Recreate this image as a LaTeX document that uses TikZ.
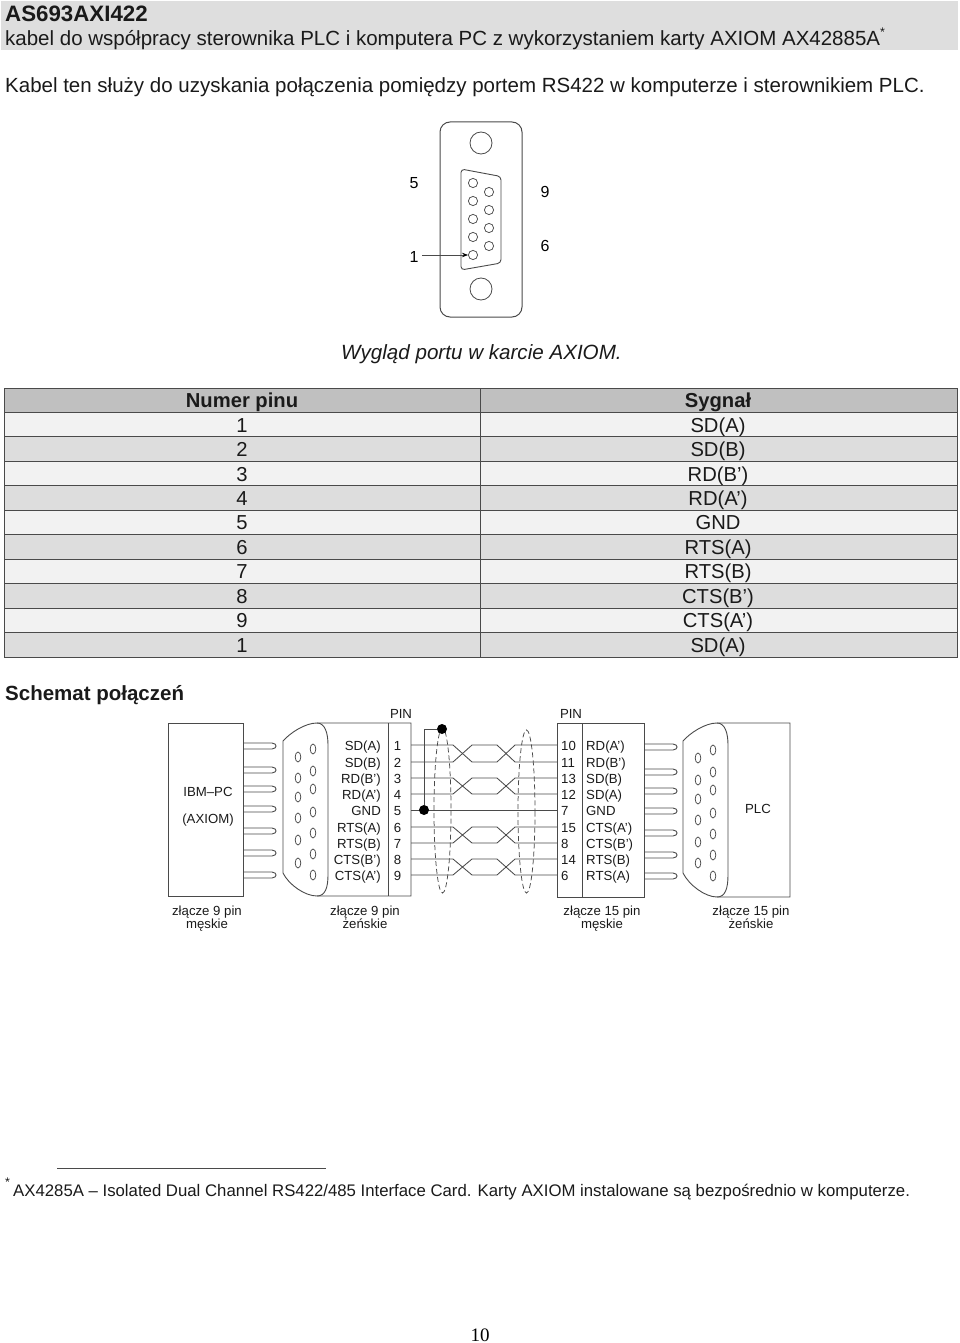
\documentclass[tikz,border=0pt]{standalone}
\usepackage{fontspec}
\setmainfont{Liberation Sans}
\newfontfamily\serifpage{Liberation Serif}
\usetikzlibrary{arrows.meta,calc}
\newcommand{\fs}[1]{\fontsize{#1}{#1}\selectfont}
\definecolor{bandgray}{HTML}{DEDEDE}
\definecolor{rowhead}{HTML}{C0C0C0}
\definecolor{rowlight}{HTML}{F2F2F2}
\definecolor{rowdark}{HTML}{DDDDDD}
\definecolor{ink}{HTML}{1A1A1A}
\definecolor{linegray}{HTML}{4A4A4A}
\tikzset{
  x=1pt,y=-1pt,
  bodytext/.style={inner sep=0pt,anchor=base west,font=\fs{20.5},text=ink},
  celltext/.style={inner sep=0pt,anchor=base,font=\fs{20.2},text=ink},
  dlabel/.style={inner sep=0pt,anchor=base east,font=\fs{13.2},text=ink},
  dleft/.style={inner sep=0pt,anchor=base west,font=\fs{13.2},text=ink},
  dcenter/.style={inner sep=0pt,anchor=base,font=\fs{13.2},text=ink,align=center},
  wire/.style={draw=linegray,line width=0.85pt},
  part/.style={draw=linegray,line width=0.9pt},
  hole/.style={draw=linegray,line width=0.75pt},
  shield/.style={draw=linegray,line width=0.75pt,dash pattern=on 5pt off 3pt},
  solder/.style={circle,fill=black,inner sep=0pt,minimum size=10pt},
  rowcell/.style={draw=linegray,line width=0.9pt},
}
\begin{document}
\begin{tikzpicture}
\useasboundingbox (0,0) rectangle (960,1343);
% header band
\fill[bandgray] (1,1) rectangle (958,50);
\node[bodytext,font=\fs{22.3}\bfseries] (title) at (5,21.5) {AS693AXI422};
\node[bodytext] (subtitle) at (5,46) {kabel do współpracy sterownika PLC i komputera PC z wykorzystaniem karty AXIOM AX42885A};
\node[bodytext,font=\fs{12.5}] (star) at (880,36.5) {*};
\node[bodytext] (intro) at (5,92.5) {Kabel ten służy do uzyskania połączenia pomiędzy portem RS422 w komputerze i sterownikiem PLC.};
% DB9 port
\draw[draw=linegray,line width=1pt,rounded corners=10pt] (440,122) rectangle (522,317);
\draw[hole,line width=0.8pt] (481,143) circle (11);
\draw[hole,line width=0.8pt] (481,289) circle (11);
\draw[draw=linegray,line width=0.9pt,rounded corners=3.5pt] (461,169) -- (501,176.5) -- (501,263) -- (461,270) -- cycle;
\foreach \y in {183,201,219,237} \draw[hole] (473,\y) circle (4.6);
\node[circle,draw=linegray,line width=0.75pt,minimum size=9.2pt,inner sep=0pt] (pinone) at (473,255) {};
\foreach \y in {192,210,228,246} \draw[hole] (489,\y) circle (4.6);
\node[inner sep=0pt,anchor=base,font=\fs{16}] (lfive) at (414,189) {5};
\node[inner sep=0pt,anchor=base,font=\fs{16}] (lone) at (414,262) {1};
\node[inner sep=0pt,anchor=base,font=\fs{16}] (lnine) at (545,197) {9};
\node[inner sep=0pt,anchor=base,font=\fs{16}] (lsix) at (545,251) {6};
\coordinate (arrowstart) at (422,255);
\draw[draw=linegray,line width=0.7pt,-{Stealth[length=6pt,width=4.5pt,black]}] (arrowstart) -- (pinone.west);
\node[bodytext,font=\fs{20.6}\itshape] (caption) at (341,359) {Wygląd portu w karcie AXIOM.};
% table
\foreach \i/\a/\b in {0/{\bfseries Numer pinu}/{\bfseries Sygnał},1/1/SD(A),2/2/SD(B),3/3/RD(B’),4/4/RD(A’),5/5/GND,6/6/RTS(A),7/7/RTS(B),8/8/CTS(B’),9/9/CTS(A’),10/1/SD(A)}{
  \pgfmathsetmacro{\yt}{388+24.45*\i}
  \pgfmathsetmacro{\yb}{388+24.45*(\i+1)}
  \pgfmathsetmacro{\yc}{388+24.45*\i+19.7}
  \pgfmathtruncatemacro{\parity}{mod(\i,2)}
  \ifnum\i=0 \def\cc{rowhead}\else\ifnum\parity=1 \def\cc{rowlight}\else\def\cc{rowdark}\fi\fi
  \draw[rowcell,fill=\cc] (4,\yt) rectangle (480,\yb);
  \draw[rowcell,fill=\cc] (480,\yt) rectangle (957,\yb);
  \node[celltext] (pincell\i) at (242,\yc) {\a};
  \node[celltext] (sigcell\i) at (718,\yc) {\b};
}
\node[bodytext,font=\fs{20.5}\bfseries] (schem) at (5,700) {Schemat połączeń};
% left male connector
\draw[part] (168,723) rectangle (243,896);
\foreach \y in {746,770,789,809,831,853,875}
  \draw[part] (243,\y-3) -- (272,\y-3) .. controls (275,\y-3) and (276,\y-1) .. (276,\y) .. controls (276,\y+1) and (275,\y+3) .. (272,\y+3) -- (243,\y+3);
\node[dcenter] (ibm) at (208,796) {IBM--PC};
\node[dcenter] (axiom) at (208,823) {(AXIOM)};
% left female connector
\draw[part] (411,723) -- (317,723) .. controls (305,723) and (290,733) .. (283,741) -- (283,873) .. controls (289,885) and (305,896) .. (317,896) -- (411,896) -- cycle;
\draw[part] (317,723) .. controls (325,723) and (328,733) .. (328,745) -- (328,875) .. controls (328,888) and (325,896) .. (317,896);
\draw[part] (388,723) -- (388,896);
\foreach \y in {757,778,797,818,840,863} \draw[hole] (298,\y) ellipse (2.8 and 5);
\foreach \y in {749,771,789,812,833,854,875} \draw[hole] (313,\y) ellipse (2.8 and 5);
% right male box
\draw[part] (557,723) rectangle (644,897);
\draw[part] (582,723) -- (582,897);
\foreach \y in {747,772,791,811,833,855,876}
  \draw[part] (644,\y-3) -- (673,\y-3) .. controls (676,\y-3) and (677,\y-1) .. (677,\y) .. controls (677,\y+1) and (676,\y+3) .. (673,\y+3) -- (644,\y+3);
% right female connector
\draw[part] (790,723) -- (717,723) .. controls (705,723) and (690,733) .. (683,741) -- (683,873) .. controls (689,885) and (705,897) .. (717,897) -- (790,897) -- cycle;
\draw[part] (717,723) .. controls (725,723) and (728,733) .. (728,745) -- (728,875) .. controls (728,889) and (725,897) .. (717,897);
\foreach \y in {758,780,799,820,842,863} \draw[hole] (698,\y) ellipse (2.8 and 5);
\foreach \y in {750,772,790,813,834,855,876} \draw[hole] (713,\y) ellipse (2.8 and 5);
\node[dcenter] (plc) at (758,813) {PLC};
% PIN headers
\node[dcenter] (pinl) at (401,718) {PIN};
\node[dcenter] (pinr) at (571,718) {PIN};
% pin rows
\foreach \i/\y/\s/\n/\m/\t in {1/745/SD(A)/1/10/RD(A’),2/762/SD(B)/2/11/RD(B’),3/778/RD(B’)/3/13/SD(B),4/794/RD(A’)/4/12/SD(A),5/810/GND/5/7/GND,6/827/RTS(A)/6/15/CTS(A’),7/843/RTS(B)/7/8/CTS(B’),8/859/CTS(B’)/8/14/RTS(B),9/875/CTS(A’)/9/6/RTS(A)}{
  \node[dlabel] (sl\i) at (381,\y+5) {\s};
  \node[dcenter] (nl\i) at (397.5,\y+5) {\n};
  \node[dleft] (nr\i) at (561,\y+5) {\m};
  \node[dleft] (sr\i) at (586,\y+5) {\t};
  \coordinate (wl\i) at (411,\y);
  \coordinate (wr\i) at (557,\y);
}
% wires: straight ones
\draw[wire] (wl5) -- (wr5);
% twisted pairs
\foreach \a/\b in {1/2,3/4,6/7,8/9}{
  \draw[wire] (wl\a) -- ($(wl\a)+(42,0)$) -- ($(wl\b)+(61,0)$) -- ($(wl\b)+(86,0)$) -- ($(wl\a)+(104,0)$) -- (wr\a);
  \draw[wire] (wl\b) -- ($(wl\b)+(42,0)$) -- ($(wl\a)+(61,0)$) -- ($(wl\a)+(86,0)$) -- ($(wl\b)+(104,0)$) -- (wr\b);
}
% shields
\draw[shield] (442.5,810.5) ellipse (8.5 and 82.5);
\draw[shield] (526.5,811.5) ellipse (8.5 and 81.5);
% ground
\node[solder] (gnddot) at (424,810) {};
\node[solder] (shielddot) at (442,729) {};
\draw[wire] (gnddot) |- (shielddot);
% captions
\node[dcenter] (c1) at (207,915) {złącze 9 pin};
\node[dcenter] (c1b) at (207,928) {męskie};
\node[dcenter] (c2) at (365,915) {złącze 9 pin};
\node[dcenter] (c2b) at (365,928) {żeńskie};
\node[dcenter] (c3) at (602,915) {złącze 15 pin};
\node[dcenter] (c3b) at (602,928) {męskie};
\node[dcenter] (c4) at (751,915) {złącze 15 pin};
\node[dcenter] (c4b) at (751,928) {żeńskie};
% footnote
\coordinate (fa) at (57,1168);
\coordinate (fb) at (326,1168);
\draw[linegray,line width=0.9pt] (fa) -- (fb);
\node[bodytext,font=\fs{12.5}] (fstar) at (5,1186) {*};
\node[bodytext,font=\fs{16.76}] (foot) at (13,1196) {AX4285A -- Isolated Dual Channel RS422/485 Interface Card. Karty AXIOM instalowane są bezpośrednio w komputerze.};
\node[inner sep=0pt,anchor=base,font=\fs{19}\serifpage] (pageno) at (480,1341) {10};
\end{tikzpicture}
\end{document}
